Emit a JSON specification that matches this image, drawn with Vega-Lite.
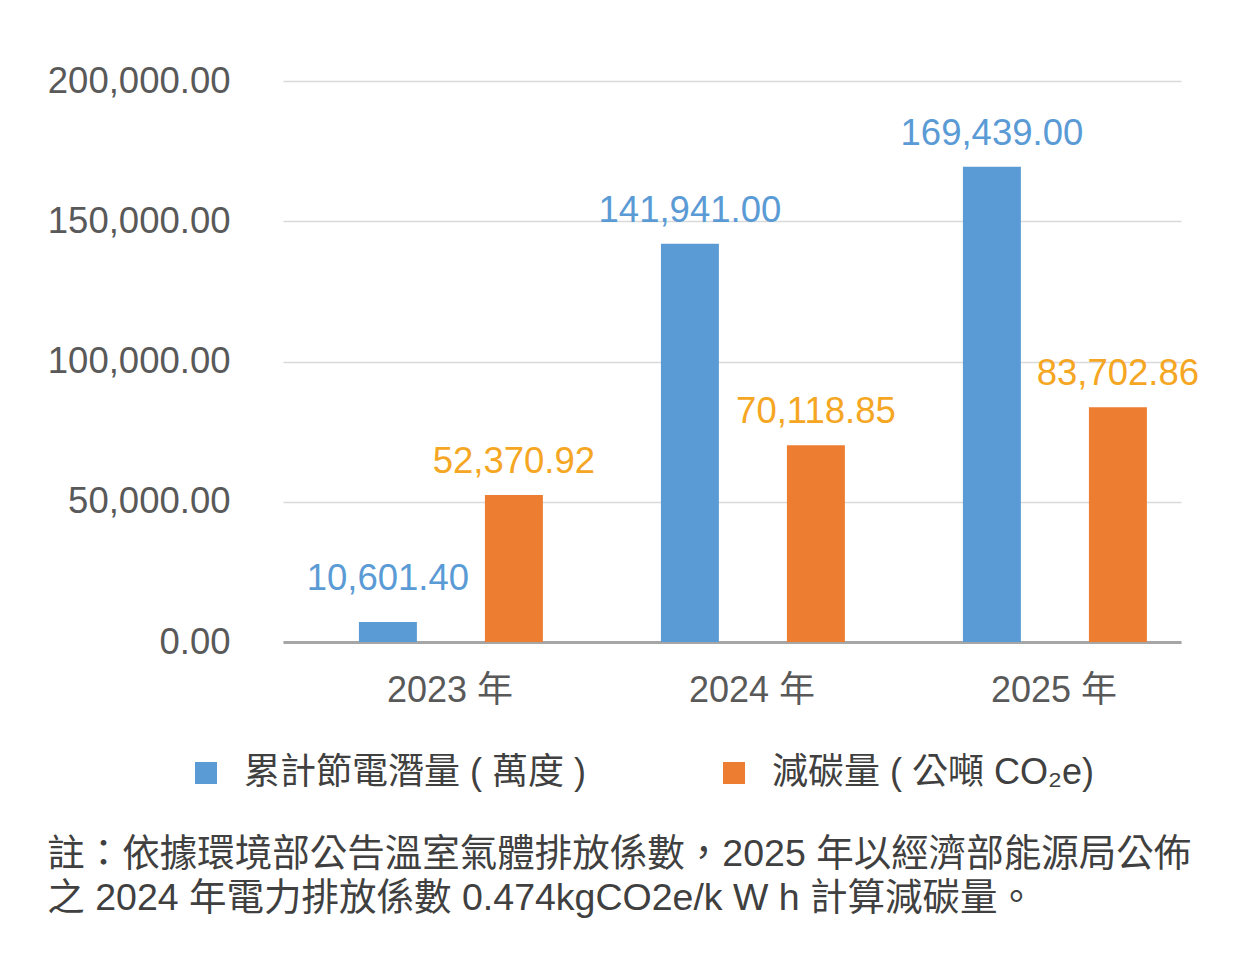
{
  "$schema": "https://vega.github.io/schema/vega-lite/v6.json",
  "autosize": "none",
  "padding": {"left": 283, "top": 81, "right": 71, "bottom": 314},
  "width": 898,
  "height": 561,
  "background": "white",
  "title": {
    "text": [
      "註：依據環境部公告溫室氣體排放係數，2025 年以經濟部能源局公佈",
      "之 2024 年電力排放係數 0.474kgCO2e/k W h 計算減碳量。"
    ],
    "orient": "bottom",
    "anchor": "start",
    "frame": "bounds",
    "offset": 45,
    "fontSize": 37.5,
    "fontWeight": "normal",
    "lineHeight": 44,
    "color": "#404040",
    "font": "Liberation Sans, Noto Sans CJK TC, sans-serif"
  },
  "data": {
    "values": [
      {"year": "2023 年", "series": "累計節電潛量 ( 萬度 )", "bar": 7150, "value": 10601.40},
      {"year": "2023 年", "series": "減碳量 ( 公噸 CO₂e)", "bar": 52370.92, "value": 52370.92},
      {"year": "2024 年", "series": "累計節電潛量 ( 萬度 )", "bar": 141941.00, "value": 141941.00},
      {"year": "2024 年", "series": "減碳量 ( 公噸 CO₂e)", "bar": 70118.85, "value": 70118.85},
      {"year": "2025 年", "series": "累計節電潛量 ( 萬度 )", "bar": 169439.00, "value": 169439.00},
      {"year": "2025 年", "series": "減碳量 ( 公噸 CO₂e)", "bar": 83702.86, "value": 83702.86}
    ]
  },
  "encoding": {
    "x": {
      "field": "year",
      "type": "nominal",
      "title": null,
      "scale": {"paddingInner": 0.0265, "paddingOuter": 0},
      "axis": {
        "labelAngle": 0,
        "labelFontSize": 36,
        "labelColor": "#595959",
        "labelPadding": 31,
        "labelOffset": 20,
        "ticks": false,
        "domainColor": "#A6A6A6",
        "domainWidth": 3,
        "grid": false
      }
    },
    "xOffset": {
      "field": "series",
      "type": "nominal",
      "sort": ["累計節電潛量 ( 萬度 )", "減碳量 ( 公噸 CO₂e)"],
      "scale": {"paddingInner": 0.54, "paddingOuter": 0.4367, "align": 0.69}
    }
  },
  "layer": [
    {
      "mark": {"type": "bar"},
      "encoding": {
        "y": {
          "field": "bar",
          "type": "quantitative",
          "title": null,
          "scale": {"domain": [0, 200000], "nice": false},
          "axis": {
            "values": [0, 50000, 100000, 150000, 200000],
            "format": ",.2f",
            "labelFontSize": 36.5,
            "labelColor": "#595959",
            "labelPadding": 53,
            "labelLimit": 400,
            "ticks": false,
            "domain": false,
            "gridColor": "#D9D9D9",
            "gridWidth": 1.5
          }
        },
        "color": {
          "field": "series",
          "type": "nominal",
          "sort": ["累計節電潛量 ( 萬度 )", "減碳量 ( 公噸 CO₂e)"],
          "scale": {"range": ["#5B9BD5", "#ED7D31"]},
          "legend": {
            "title": null,
            "orient": "none",
            "direction": "horizontal",
            "legendX": -95,
            "legendY": 674,
            "symbolType": "square",
            "symbolSize": 484,
            "symbolStrokeWidth": 0,
            "labelFontSize": 36,
            "labelColor": "#404040",
            "labelOffset": 20,
            "labelLimit": 600,
            "columnPadding": 130
          }
        }
      }
    },
    {
      "mark": {"type": "text", "baseline": "alphabetic", "dy": -22, "fontSize": 36.5},
      "encoding": {
        "y": {"field": "value", "type": "quantitative"},
        "text": {"field": "value", "type": "quantitative", "format": ",.2f"},
        "color": {
          "condition": {"test": "datum.series === '累計節電潛量 ( 萬度 )'", "value": "#5B9BD5"},
          "value": "#F5A623"
        }
      }
    }
  ],
  "config": {
    "font": "Liberation Sans, Noto Sans CJK TC, sans-serif",
    "view": {"stroke": null},
    "axis": {"labelFont": "Liberation Sans, Noto Sans CJK TC, sans-serif"},
    "legend": {"labelFont": "Liberation Sans, Noto Sans CJK TC, sans-serif"}
  }
}
